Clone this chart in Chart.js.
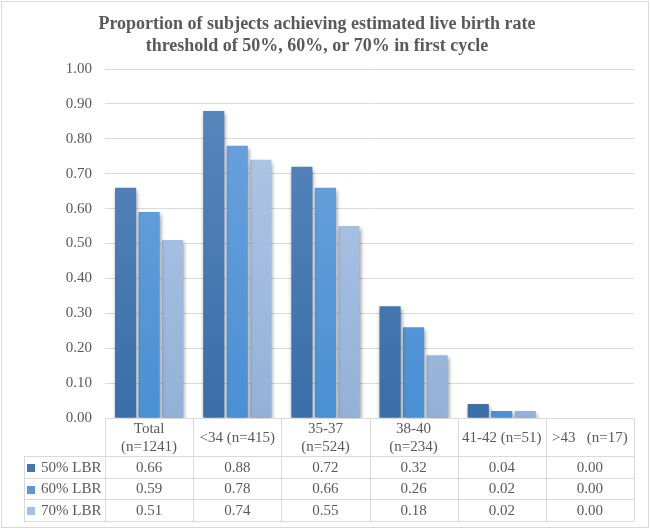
<!DOCTYPE html>
<html>
<head>
<meta charset="utf-8">
<script src="https://cdn.jsdelivr.net/npm/chart.js@4.4.1/dist/chart.umd.min.js"></script>
<style>
  html, body { margin: 0; padding: 0; background: #fff; }
  #wrap { position: relative; width: 650px; height: 529px; }
</style>
</head>
<body>
<div id="wrap"><canvas id="lbrChart" width="650" height="529"></canvas></div>
<script>
// categorias (cada una con sus lineas de texto para la tabla)
var categories = [['Total', '(n=1241)'], ['<34 (n=415)'], ['35-37', '(n=524)'], ['38-40', '(n=234)'], ['41-42 (n=51)'], ['>43   (n=17)']];
var seriesNames = ['50% LBR', '60% LBR', '70% LBR'];
var lbr50 = [0.66, 0.88, 0.72, 0.32, 0.04, 0.00];
var lbr60 = [0.59, 0.78, 0.66, 0.26, 0.02, 0.00];
var lbr70 = [0.51, 0.74, 0.55, 0.18, 0.02, 0.00];

var textGray = '#595959';
var lineGray = '#d9d9d9';
var serif = '"Liberation Serif", "Times New Roman", serif';

// colores de degradado (arriba, abajo) y color plano para la leyenda
var gradStops = [['#5a88bf', '#3a6ea7'], ['#70a4de', '#4990d4'], ['#b4cbe9', '#93b1d7']];
var flatColors = ['#4277b2', '#5799da', '#a3bfe1'];

function barGradient(i) {
    return function (context) {
        var chart = context.chart;
        var area = chart.chartArea;
        if (!area) return flatColors[i];
        var g = chart.ctx.createLinearGradient(0, area.top, 0, area.bottom);
        g.addColorStop(0, gradStops[i][0]);
        g.addColorStop(1, gradStops[i][1]);
        return g;
    };
}

// sombra de las barras
var shadowPlugin = {
    id: 'barShadow',
    beforeDatasetsDraw: function (chart) {
        var ctx = chart.ctx;
        ctx.save();
        ctx.shadowColor = 'rgba(0,0,0,0.4)';
        ctx.shadowBlur = 4;
        ctx.shadowOffsetX = 1;
        ctx.shadowOffsetY = 3;
    },
    afterDatasetsDraw: function (chart) {
        chart.ctx.restore();
    }
};

// tabla de datos debajo del grafico
var tablePlugin = {
    id: 'dataTable',
    afterDraw: function (chart) {
        var ctx = chart.ctx;
        var area = chart.chartArea;
        var x = chart.scales.x;
        var n = categories.length;
        var catW = (area.right - area.left) / n;
        var tableLeft = 24;
        var headTop = area.bottom;
        var headH = 38;
        var rowH = 21.7;
        var bottom = headTop + headH + rowH * 3;

        ctx.save();
        ctx.strokeStyle = lineGray;
        ctx.lineWidth = 1;
        ctx.beginPath();
        // lineas horizontales
        ctx.moveTo(area.left, headTop + 0.5);
        ctx.lineTo(area.right, headTop + 0.5);
        for (var r = 0; r <= 3; r++) {
            var yy = Math.round(headTop + headH + rowH * r) + 0.5;
            ctx.moveTo(tableLeft, yy);
            ctx.lineTo(area.right, yy);
        }
        // lineas verticales
        for (var c = 0; c <= n; c++) {
            var xx = Math.round(area.left + catW * c) + 0.5;
            ctx.moveTo(xx, headTop);
            ctx.lineTo(xx, bottom);
        }
        ctx.moveTo(tableLeft + 0.5, headTop + headH);
        ctx.lineTo(tableLeft + 0.5, bottom);
        ctx.stroke();

        ctx.fillStyle = textGray;
        ctx.font = '15px ' + serif;
        ctx.textAlign = 'center';
        ctx.textBaseline = 'middle';
        // encabezados
        categories.forEach(function (lines, i) {
            var cx = x.getPixelForValue(i);
            if (lines.length === 1) {
                ctx.fillText(lines[0], cx, headTop + headH / 2 + 1);
            } else {
                ctx.fillText(lines[0], cx, headTop + 11);
                ctx.fillText(lines[1], cx, headTop + 29);
            }
        });
        // valores
        var allData = [lbr50, lbr60, lbr70];
        allData.forEach(function (vals, r) {
            var cy = headTop + headH + rowH * r + rowH / 2;
            vals.forEach(function (v, i) {
                ctx.fillText(v.toFixed(2), x.getPixelForValue(i), cy + 1);
            });
            // leyenda
            ctx.fillStyle = flatColors[r];
            ctx.fillRect(27, Math.round(cy - 3), 8, 8);
            ctx.fillStyle = textGray;
            ctx.textAlign = 'left';
            ctx.fillText(seriesNames[r], 41, cy + 1);
            ctx.textAlign = 'center';
        });

        // marco exterior
        ctx.strokeStyle = lineGray;
        ctx.strokeRect(1.5, 1.5, chart.width - 3, chart.height - 3);
        ctx.restore();
    }
};

var ctx1 = document.getElementById('lbrChart').getContext('2d');
var lbrChart = new Chart(ctx1, {
    type: 'bar',
    data: {
        labels: categories.map(function (c) { return c.join(' '); }),
        datasets: [
            { label: seriesNames[0], data: lbr50, backgroundColor: barGradient(0) },
            { label: seriesNames[1], data: lbr60, backgroundColor: barGradient(1) },
            { label: seriesNames[2], data: lbr70, backgroundColor: barGradient(2) }
        ]
    },
    options: {
        responsive: false,
        animation: false,
        devicePixelRatio: 1,
        layout: { padding: { left: 0, right: 16, top: 0, bottom: 111 } },
        datasets: { bar: { categoryPercentage: 0.8, barPercentage: 0.9 } },
        plugins: {
            legend: { display: false },
            tooltip: { enabled: false },
            title: {
                display: true,
                text: ['Proportion of subjects achieving estimated live birth rate',
                       'threshold of 50%, 60%, or 70% in first cycle'],
                color: textGray,
                font: { family: serif, size: 18, weight: 'bold', lineHeight: 1.25 },
                padding: { top: 13, bottom: 11 }
            }
        },
        scales: {
            x: { display: false },
            y: {
                min: 0,
                max: 1,
                ticks: {
                    stepSize: 0.1,
                    color: textGray,
                    padding: 13,
                    font: { family: serif, size: 15 },
                    callback: function (v) { return v.toFixed(2); }
                },
                grid: { color: lineGray, drawTicks: false },
                border: { display: false },
                afterFit: function (scale) { scale.width = 105; }
            }
        }
    },
    plugins: [shadowPlugin, tablePlugin]
});
</script>
</body>
</html>
